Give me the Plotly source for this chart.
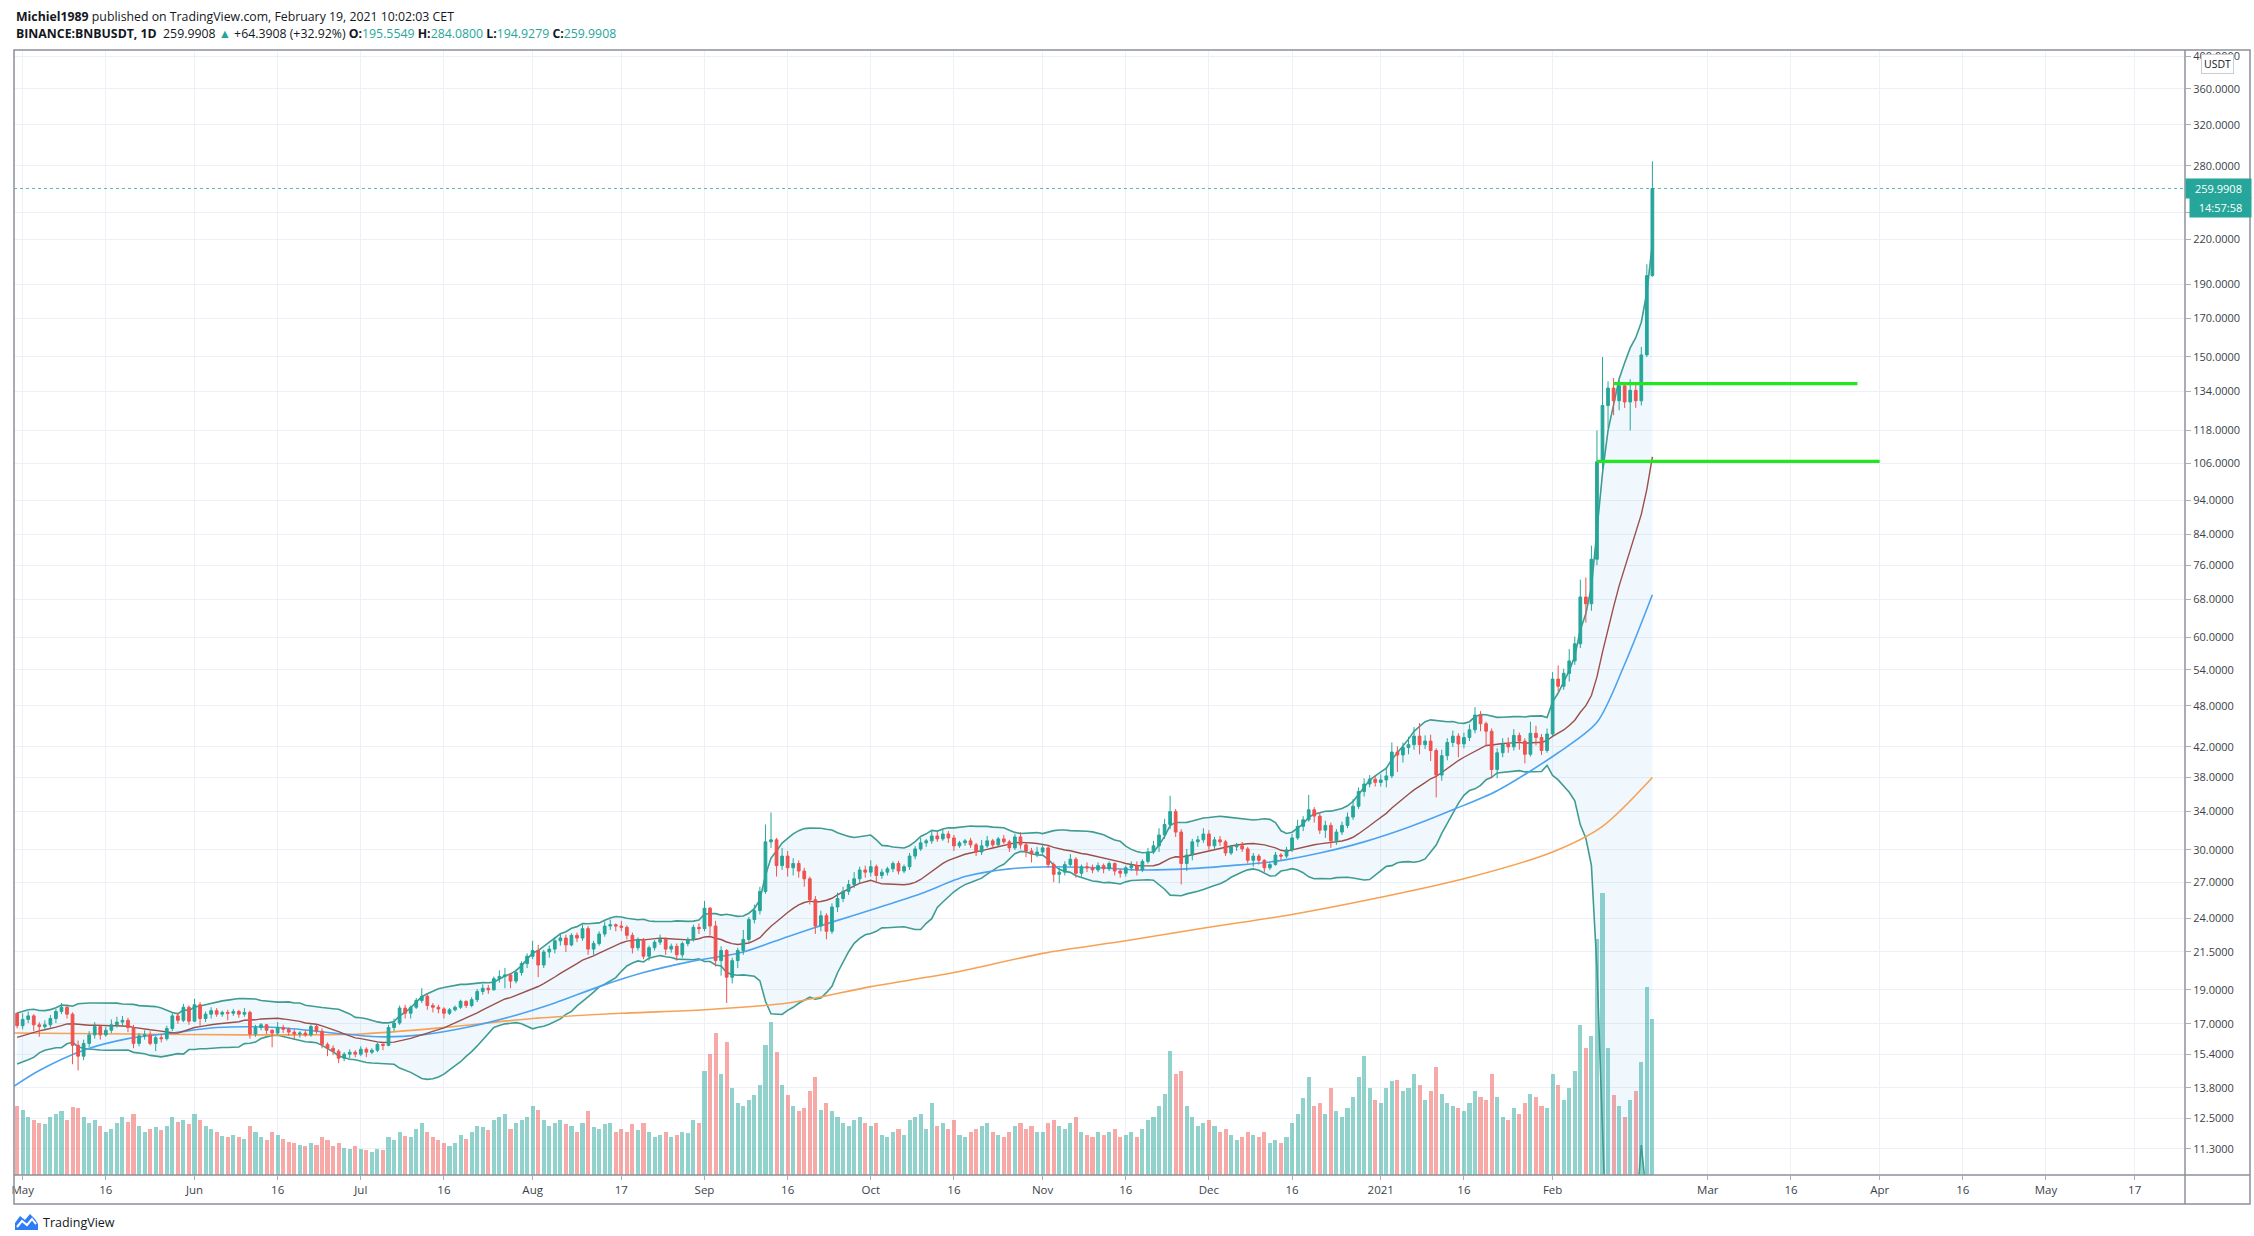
import numpy as np
import pandas as pd
import plotly.graph_objects as go

# ---------------- DATA ----------------
FIRST_DATE = "2020-04-30"
FIRST_OPEN = 17.60
# closes Apr 11 - Apr 29 2020, only used to warm up the 20-day Bollinger band
WARMUP_CLOSE = [15.40, 15.30, 15.60, 15.20, 15.70, 16.10, 16.00, 16.30, 15.70, 15.60,
                16.10, 16.50, 16.70, 16.80, 16.90, 16.80, 17.00, 17.10, 17.60]

CLOSE = [16.90,
    # May
    17.25, 17.45, 16.95, 16.85, 16.95, 17.30, 17.70, 17.95, 17.55, 15.85, 15.30, 15.95, 16.40, 16.85, 16.40, 16.65,
    16.95, 17.10, 17.20, 16.80, 15.95, 16.35, 16.40, 15.95, 16.25, 16.20, 16.75, 17.45, 17.20, 17.95, 17.15,
    # Jun
    18.10, 17.30, 17.55, 17.75, 17.55, 17.65, 17.60, 17.70, 17.55, 17.65, 16.45, 16.80, 16.95, 16.65, 16.50,
    16.80, 16.70, 16.55, 16.45, 16.50, 16.40, 16.85, 16.60, 15.90, 15.70, 15.55, 15.20, 15.40, 15.50, 15.40,
    # Jul
    15.65, 15.50, 15.60, 15.90, 15.85, 16.80, 17.05, 17.90, 17.60, 17.95, 18.35, 18.60, 18.05, 17.95, 17.85, 17.60,
    17.80, 17.95, 18.30, 18.05, 18.40, 18.90, 19.10, 19.00, 19.70, 19.85, 19.95, 19.55, 20.10, 20.70, 21.20,
    # Aug
    21.60, 20.60, 21.50, 21.70, 22.30, 22.50, 22.00, 22.70, 22.50, 23.20, 21.70, 22.10, 22.80, 23.40, 23.50, 23.40,
    23.30, 22.70, 21.80, 22.40, 21.20, 21.80, 22.20, 22.40, 21.70, 21.90, 21.30, 22.10, 22.40, 23.30, 23.20,
    # Sep
    24.80, 23.40, 20.90, 21.60, 19.80, 20.90, 21.60, 22.40, 23.90, 24.60, 26.20, 30.80, 31.00, 28.50, 29.40,
    28.30, 28.70, 28.00, 27.30, 25.50, 23.40, 24.20, 23.00, 24.90, 25.60, 26.20, 26.80, 27.30, 28.10, 27.90,
    # Oct
    28.40, 27.60, 27.90, 28.20, 28.70, 28.00, 28.40, 29.40, 30.10, 30.70, 30.90, 31.40, 31.10, 31.60, 31.20, 30.40,
    30.70, 30.90, 30.50, 29.80, 30.40, 30.90, 30.50, 31.10, 30.80, 30.20, 31.30, 30.50, 29.90, 29.60, 29.80,
    # Nov
    30.20, 28.60, 27.70, 27.90, 28.60, 29.10, 27.80, 28.40, 28.30, 28.10, 28.50, 28.20, 28.70, 28.00, 27.80,
    28.30, 28.50, 28.10, 28.90, 29.80, 30.40, 31.50, 32.60, 34.00, 31.80, 28.70, 29.50, 30.80, 31.00, 31.60,
    # Dec
    30.40, 31.00, 30.80, 29.70, 30.30, 30.40, 30.10, 29.00, 29.40, 29.00, 28.30, 28.60, 29.50, 29.40, 30.00, 31.20,
    32.40, 33.10, 34.20, 33.50, 32.00, 32.50, 30.90, 31.80, 32.50, 33.40, 34.60, 36.30, 37.20, 37.80, 37.40,
    # Jan 2021
    37.70, 38.20, 41.30, 40.90, 41.90, 42.30, 43.50, 42.30, 42.80, 41.50, 38.30, 40.80, 42.60, 43.50, 42.40, 43.30,
    44.40, 46.60, 45.30, 44.20, 39.00, 41.20, 42.40, 42.00, 43.60, 42.80, 41.00, 43.90, 43.30, 41.50, 43.80,
    # Feb 2021
    52.40, 51.20, 53.40, 55.60, 58.80, 68.50, 67.00, 77.50, 106.50, 128.00, 135.50, 130.00, 136.50, 129.50,
    134.50, 130.00, 151.00, 195.60, 259.9908]

HIGH = [17.65,
    17.60, 17.70, 17.55, 17.10, 17.20, 17.50, 17.85, 18.20, 18.05, 17.65, 16.10, 16.15, 16.60, 17.10, 16.95, 16.85,
    17.25, 17.40, 17.45, 17.35, 16.95, 16.50, 16.65, 16.60, 16.35, 16.45, 16.90, 17.60, 17.65, 18.15, 18.05,
    18.45, 18.25, 17.70, 17.95, 17.90, 17.75, 17.80, 17.85, 17.80, 17.90, 17.75, 16.95, 17.05, 17.00, 16.70,
    17.10, 16.95, 16.80, 16.70, 16.60, 16.65, 16.95, 16.95, 16.75, 16.00, 15.85, 15.65, 15.50, 15.65, 15.60,
    15.80, 15.75, 15.70, 16.00, 15.95, 16.95, 17.30, 18.05, 18.10, 18.05, 18.50, 19.10, 18.75, 18.20, 18.10, 17.95,
    17.90, 18.05, 18.40, 18.35, 18.55, 19.05, 19.35, 19.30, 19.85, 20.25, 20.40, 20.05, 20.30, 20.85, 21.40,
    22.30, 22.00, 21.65, 21.95, 22.55, 22.80, 22.75, 22.85, 22.90, 23.50, 23.40, 22.30, 23.00, 23.75, 23.90, 23.60,
    23.80, 23.45, 22.90, 22.55, 22.50, 21.95, 22.35, 22.75, 22.55, 22.10, 22.10, 22.25, 22.55, 23.50, 23.60,
    25.40, 24.90, 23.80, 21.90, 21.70, 21.10, 21.80, 23.10, 24.10, 25.10, 26.60, 32.60, 33.90, 31.20, 30.20,
    29.90, 29.20, 29.00, 28.30, 27.50, 25.80, 24.60, 24.40, 25.20, 26.10, 26.60, 27.20, 27.90, 28.40, 28.50,
    29.00, 28.60, 28.20, 28.40, 28.90, 28.95, 28.60, 29.70, 30.40, 31.20, 31.10, 31.90, 31.80, 32.10, 31.90, 31.50,
    30.90, 31.10, 31.20, 30.70, 31.00, 31.40, 31.10, 31.30, 31.50, 31.00, 31.60, 31.80, 30.70, 30.20, 30.30,
    30.60, 30.40, 28.80, 28.30, 28.90, 29.60, 29.30, 28.60, 28.80, 28.60, 28.80, 28.70, 28.90, 28.80, 28.20,
    28.50, 28.90, 28.90, 29.10, 30.20, 30.90, 32.20, 33.20, 35.80, 34.30, 32.10, 30.10, 31.10, 31.40, 32.20,
    32.00, 31.30, 31.40, 31.00, 30.50, 30.70, 30.80, 30.30, 29.70, 29.60, 29.10, 28.80, 29.80, 29.70, 30.30, 31.60,
    33.10, 33.50, 35.90, 34.50, 33.90, 33.00, 32.80, 32.10, 32.90, 33.90, 35.40, 36.80, 37.90, 38.30, 38.20,
    38.40, 39.30, 42.60, 42.10, 42.60, 43.40, 44.80, 45.40, 43.60, 43.70, 41.80, 41.60, 43.20, 44.30, 43.90, 44.00,
    45.20, 47.80, 47.20, 45.60, 44.60, 41.80, 43.20, 43.30, 44.50, 44.00, 43.20, 45.60, 45.00, 43.80, 44.60,
    53.60, 54.80, 54.20, 57.80, 60.20, 72.50, 73.00, 81.00, 118.00, 150.00, 138.50, 140.00, 139.00, 138.00,
    139.50, 137.50, 155.00, 203.00, 284.08]

LOW = [16.75,
    16.70, 17.05, 16.60, 16.30, 16.65, 16.80, 17.05, 17.55, 17.30, 14.90, 14.60, 15.10, 15.75, 16.20, 16.15, 16.30,
    16.50, 16.80, 16.90, 16.55, 15.70, 15.80, 16.15, 15.85, 15.55, 16.00, 16.10, 16.60, 17.00, 17.10, 16.95,
    17.10, 16.90, 17.10, 17.30, 17.40, 17.40, 17.20, 17.45, 17.35, 17.40, 16.20, 16.30, 16.65, 16.45, 15.75,
    16.40, 16.50, 16.35, 16.15, 16.25, 16.30, 16.30, 16.45, 15.70, 15.30, 15.35, 14.95, 15.05, 15.20, 15.25,
    15.30, 15.25, 15.40, 15.50, 15.60, 15.80, 16.60, 16.95, 17.30, 17.30, 17.85, 18.20, 17.80, 17.65, 17.60, 17.30,
    17.50, 17.70, 17.85, 17.90, 17.95, 18.25, 18.70, 18.75, 18.95, 19.45, 19.10, 19.10, 19.40, 19.90, 20.40,
    21.00, 19.80, 20.40, 21.10, 21.40, 21.95, 21.50, 21.90, 22.20, 22.30, 21.30, 21.30, 21.95, 22.60, 23.10, 23.00,
    23.00, 22.40, 21.40, 21.60, 21.00, 20.90, 21.60, 22.00, 21.30, 21.45, 20.90, 21.10, 21.90, 22.25, 22.80,
    23.00, 22.70, 20.50, 19.90, 18.20, 19.40, 20.40, 21.30, 22.20, 23.60, 24.30, 26.00, 30.20, 27.50, 28.10,
    27.50, 27.60, 27.40, 26.60, 25.10, 22.80, 23.00, 22.40, 22.80, 24.50, 25.30, 25.90, 26.50, 26.90, 27.40,
    27.50, 26.90, 27.30, 27.60, 27.90, 27.70, 27.80, 28.10, 29.10, 29.90, 30.30, 30.60, 30.80, 30.90, 30.70, 29.90,
    30.20, 30.40, 30.20, 29.40, 29.50, 30.20, 30.20, 30.40, 30.60, 29.80, 30.00, 30.10, 29.30, 28.80, 29.30,
    29.60, 28.30, 27.00, 26.90, 27.60, 28.40, 27.40, 27.50, 27.90, 27.80, 27.90, 27.80, 28.00, 27.60, 27.40,
    27.50, 28.00, 27.60, 27.90, 28.70, 29.60, 29.80, 31.10, 32.10, 31.30, 26.80, 28.00, 29.00, 30.30, 30.70,
    29.80, 30.10, 30.40, 29.40, 29.50, 29.90, 29.80, 28.70, 28.40, 28.60, 27.90, 28.10, 28.50, 29.00, 29.20, 29.80,
    31.00, 31.90, 32.90, 32.80, 31.60, 31.20, 30.20, 30.50, 31.50, 32.20, 33.10, 34.30, 35.70, 36.80, 36.90,
    36.90, 36.80, 37.90, 38.70, 39.90, 41.00, 41.60, 41.00, 41.70, 40.10, 35.60, 37.60, 40.20, 42.00, 40.60, 41.80,
    42.80, 43.90, 44.20, 42.10, 37.90, 37.90, 40.60, 41.20, 41.50, 41.60, 39.80, 40.70, 42.20, 40.90, 41.20,
    43.50, 50.30, 50.60, 52.00, 54.90, 58.00, 63.00, 65.50, 76.00, 104.00, 119.00, 124.00, 126.00, 127.00,
    118.00, 127.00, 128.00, 150.00, 194.9279]

# volume, in the picture's relative units (bar height)
VOLUME = [48,
    45, 40, 38, 36, 35, 40, 42, 44, 38, 47, 46, 40, 36, 38, 34, 30, 32, 36, 40, 37, 42, 34, 30, 32, 33, 31, 34, 40, 37, 38, 35,
    42, 38, 34, 32, 30, 27, 26, 28, 26, 25, 34, 30, 26, 24, 30, 28, 25, 23, 22, 21, 20, 22, 21, 26, 24, 20, 22, 19, 18, 20,
    18, 17, 16, 18, 17, 26, 24, 30, 27, 26, 32, 36, 30, 26, 24, 22, 20, 22, 28, 25, 30, 34, 33, 31, 38, 40, 42, 32, 36, 38, 40,
    48, 45, 38, 34, 36, 38, 35, 34, 30, 36, 44, 33, 32, 35, 36, 30, 32, 30, 35, 31, 36, 30, 26, 28, 30, 26, 28, 30, 29, 38, 36,
    72, 84, 98, 70, 92, 60, 50, 48, 52, 55, 62, 90, 106, 85, 62, 55, 48, 44, 46, 58, 68, 45, 50, 44, 40, 36, 34, 38, 40, 36,
    34, 36, 28, 26, 30, 32, 28, 38, 40, 42, 32, 50, 34, 36, 32, 38, 28, 26, 30, 32, 34, 36, 30, 28, 26, 30, 34, 36, 32, 34, 30,
    30, 36, 38, 34, 32, 36, 40, 30, 28, 26, 30, 28, 30, 32, 26, 28, 30, 26, 32, 38, 40, 48, 56, 86, 70, 72, 48, 40, 34, 36,
    38, 34, 30, 32, 28, 24, 26, 30, 28, 26, 30, 22, 24, 22, 26, 36, 42, 53, 68, 48, 50, 42, 60, 44, 40, 46, 54, 68, 82, 60, 52,
    50, 60, 65, 66, 58, 60, 70, 62, 52, 58, 75, 56, 50, 48, 46, 44, 50, 58, 54, 52, 70, 54, 40, 38, 46, 42, 50, 56, 54, 48, 46,
    70, 62, 52, 60, 72, 104, 88, 96, 163, 195, 88, 55, 48, 40, 52, 58, 78, 130, 108]

MA50_DATES = ["2020-04-29", "2020-05-04", "2020-05-12", "2020-05-20", "2020-05-28", "2020-06-05", "2020-06-16",
              "2020-06-26", "2020-07-04", "2020-07-12", "2020-07-20", "2020-07-28", "2020-08-05", "2020-08-13",
              "2020-08-21", "2020-08-29", "2020-09-08", "2020-09-16", "2020-09-24", "2020-10-02", "2020-10-10",
              "2020-10-18", "2020-10-26", "2020-11-03", "2020-11-11", "2020-11-19", "2020-11-27", "2020-12-05",
              "2020-12-13", "2020-12-21", "2020-12-29", "2021-01-06", "2021-01-14", "2021-01-22", "2021-02-02",
              "2021-02-09", "2021-02-14", "2021-02-19"]
MA50_VALUES = [13.8, 14.6, 15.6, 16.2, 16.5, 16.8, 16.8, 16.5, 16.3, 16.4, 16.8, 17.4, 18.2, 19.2, 20.1, 20.8,
               21.5, 22.6, 23.7, 24.8, 26.0, 27.5, 28.2, 28.4, 28.3, 28.1, 28.2, 28.5, 28.9, 29.7, 30.8, 32.3,
               34.2, 36.4, 41.2, 45.5, 55.0, 69.0]

MA200_DATES = ["2020-04-29", "2020-05-20", "2020-06-10", "2020-07-01", "2020-07-16", "2020-08-01", "2020-08-17",
               "2020-09-01", "2020-09-16", "2020-10-01", "2020-10-16", "2020-11-01", "2020-11-16", "2020-12-01",
               "2020-12-16", "2021-01-01", "2021-01-16", "2021-02-01", "2021-02-10", "2021-02-19"]
MA200_VALUES = [16.5, 16.45, 16.4, 16.45, 16.8, 17.3, 17.6, 17.8, 18.2, 19.2, 20.1, 21.4, 22.3, 23.3, 24.3,
                25.7, 27.3, 29.8, 32.4, 38.0]

# user-drawn horizontal levels
LEVEL_VALUES = [137.5, 106.7]
LEVEL_START = ["2021-02-12", "2021-02-09"]
LEVEL_END = ["2021-03-28", "2021-04-01"]

LAST_PRICE = 259.9908

XTICK_VALS = ["2020-05-01", "2020-05-16", "2020-06-01", "2020-06-16", "2020-07-01", "2020-07-16", "2020-08-01",
              "2020-08-17", "2020-09-01", "2020-09-16", "2020-10-01", "2020-10-16", "2020-11-01", "2020-11-16",
              "2020-12-01", "2020-12-16", "2021-01-01", "2021-01-16", "2021-02-01", "2021-03-01", "2021-03-16",
              "2021-04-01", "2021-04-16", "2021-05-01", "2021-05-17"]
XTICK_TEXT = ["May", "16", "Jun", "16", "Jul", "16", "Aug", "17", "Sep", "16", "Oct", "16", "Nov", "16",
              "Dec", "16", "2021", "16", "Feb", "Mar", "16", "Apr", "16", "May", "17"]
YTICK_VALS = [11.3, 12.5, 13.8, 15.4, 17, 19, 21.5, 24, 27, 30, 34, 38, 42, 48, 54, 60, 68, 76, 84, 94,
              106, 118, 134, 150, 170, 190, 220, 240, 280, 320, 360, 400]
YTICK_HIDDEN = [240]   # label sits behind the countdown box in the reference

HEADER_1 = "<b>Michiel1989</b> published on TradingView.com, February 19, 2021 10:02:03 CET"
HEADER_2 = ("<b>BINANCE:BNBUSDT, 1D</b>  259.9908 <span style='color:#26a69a'>▲</span> +64.3908 (+32.92%) "
            "<b>O:</b><span style='color:#26a69a'>195.5549</span> <b>H:</b><span style='color:#26a69a'>284.0800</span> "
            "<b>L:</b><span style='color:#26a69a'>194.9279</span> <b>C:</b><span style='color:#26a69a'>259.9908</span>")

# ---------------- derived ----------------
dates = pd.date_range(FIRST_DATE, periods=len(CLOSE), freq="D")
OPEN = [FIRST_OPEN] + CLOSE[:-1]          # 24/7 market: each open is the prior close
HIGH_ = [max(h, o, c) for h, o, c in zip(HIGH, OPEN, CLOSE)]
LOW_ = [min(l, o, c) for l, o, c in zip(LOW, OPEN, CLOSE)]

s = pd.Series(WARMUP_CLOSE + CLOSE)
mid = s.rolling(20).mean().to_numpy()[len(WARMUP_CLOSE):]
sd = s.rolling(20).std(ddof=0).to_numpy()[len(WARMUP_CLOSE):]
bb_up = mid + 2 * sd
bb_lo = np.maximum(mid - 2 * sd, 1.0)

# ---------------- geometry ----------------
W, H = 2254, 1236
ML, MR, MT, MB = 14, 69, 50, 61
PW, PH = W - ML - MR, H - MT - MB
Y_LO, Y_HI = np.log10(10.38), np.log10(408.6)
X0, X1 = "2020-04-29 10:30", "2021-05-26 02:00"


def P(x, y):
    return (x - ML) / PW, (H - MB - y) / PH


def ypaper(v):
    return (np.log10(v) - Y_LO) / (Y_HI - Y_LO)


UP, DN = "#26a69a", "#ef5350"
GRID = "#edf1f7"
TXT = "#131722"
AX_TXT = "#3b3f4a"
FONT = "Open Sans"

fig = go.Figure()

# volume (base axis, linear, hidden)
vcol = ["rgba(38,166,154,0.5)" if c >= o else "rgba(239,83,80,0.5)" for o, c in zip(OPEN, CLOSE)]
fig.add_trace(go.Bar(x=dates, y=VOLUME, marker=dict(color=vcol, line=dict(width=0)),
                     width=0.74 * 86400000, xaxis="x", yaxis="y", hoverinfo="skip"))

# Bollinger band + moving averages (price axis y2)
fig.add_trace(go.Scatter(x=dates, y=bb_up, mode="lines", line=dict(color="#3f9c92", width=1.6),
                         xaxis="x", yaxis="y2", hoverinfo="skip"))
fig.add_trace(go.Scatter(x=dates, y=bb_lo, mode="lines", line=dict(color="#3f9c92", width=1.6),
                         fill="tonexty", fillcolor="rgba(33,150,243,0.065)",
                         xaxis="x", yaxis="y2", hoverinfo="skip"))
fig.add_trace(go.Scatter(x=MA200_DATES, y=MA200_VALUES, mode="lines",
                         line=dict(color="#f7a155", width=1.6, shape="spline", smoothing=0.8),
                         xaxis="x", yaxis="y2", hoverinfo="skip"))
fig.add_trace(go.Scatter(x=MA50_DATES, y=MA50_VALUES, mode="lines",
                         line=dict(color="#4da3ef", width=1.6, shape="spline", smoothing=0.8),
                         xaxis="x", yaxis="y2", hoverinfo="skip"))
fig.add_trace(go.Scatter(x=dates, y=mid, mode="lines", line=dict(color="#9b4f48", width=1.4),
                         xaxis="x", yaxis="y2", hoverinfo="skip"))

# candles (y3, same log scale, above indicators)
fig.add_trace(go.Candlestick(x=dates, open=OPEN, high=HIGH_, low=LOW_, close=CLOSE,
                             increasing=dict(line=dict(color=UP, width=1), fillcolor=UP),
                             decreasing=dict(line=dict(color=DN, width=1), fillcolor=DN),
                             whiskerwidth=0, xaxis="x", yaxis="y3", hoverinfo="skip"))

# last price dotted line
fig.add_trace(go.Scatter(x=[X0, X1], y=[LAST_PRICE, LAST_PRICE], mode="lines",
                         line=dict(color="rgba(38,166,154,0.75)", width=1.2, dash="dot"),
                         xaxis="x", yaxis="y3", hoverinfo="skip"))
# user levels
for v, a, b in zip(LEVEL_VALUES, LEVEL_START, LEVEL_END):
    fig.add_trace(go.Scatter(x=[a, b], y=[v, v], mode="lines", line=dict(color="#22e61f", width=3.2),
                             xaxis="x", yaxis="y3", hoverinfo="skip"))

# ---------------- frame / decorations ----------------
shapes = []
fx0, fy_top = P(14, 50)
fx1, fy_bot = P(2250, 1204)
border = dict(color="#8c9098", width=1.5)
shapes.append(dict(type="rect", xref="paper", yref="paper", x0=fx0, y0=fy_bot, x1=fx1, y1=fy_top,
                   line=border, layer="above"))
shapes.append(dict(type="line", xref="paper", yref="paper", x0=1, y0=fy_bot, x1=1, y1=fy_top,
                   line=border, layer="above"))
shapes.append(dict(type="line", xref="paper", yref="paper", x0=fx0, y0=0, x1=fx1, y1=0,
                   line=border, layer="above"))

# TradingView logo icon
logo = [(15, 1230), (15, 1223), (20, 1216), (25, 1220), (30, 1214), (35, 1219), (38, 1224), (38, 1230)]
path = "M " + " L ".join(f"{P(x, y)[0]:.6f},{P(x, y)[1]:.6f}" for x, y in logo) + " Z"
shapes.append(dict(type="path", xref="paper", yref="paper", path=path, fillcolor="#2e7cf6",
                   line=dict(width=0), layer="above"))
zig = [(17, 1227), (22, 1221), (27, 1225), (32, 1219), (36, 1224)]
path2 = "M " + " L ".join(f"{P(x, y)[0]:.6f},{P(x, y)[1]:.6f}" for x, y in zig)
shapes.append(dict(type="path", xref="paper", yref="paper", path=path2,
                   line=dict(color="white", width=2), layer="above"))

ann = []
hx, hy1 = P(14, 17)
_, hy2 = P(14, 33)
ann.append(dict(text=HEADER_1, x=hx, y=hy1, xref="paper", yref="paper", xanchor="left", yanchor="middle",
                showarrow=False, font=dict(family=FONT, size=12.3, color=TXT)))
ann.append(dict(text=HEADER_2, x=hx, y=hy2, xref="paper", yref="paper", xanchor="left", yanchor="middle",
                showarrow=False, font=dict(family=FONT, size=12.3, color=TXT)))
lx, ly = P(41, 1222)
ann.append(dict(text="TradingView", x=lx, y=ly, xref="paper", yref="paper", xanchor="left", yanchor="middle",
                showarrow=False, font=dict(family=FONT, size=12.5, color=TXT)))
ux, uy = P(2217, 64)
ann.append(dict(text="USDT", x=ux, y=uy, xref="paper", yref="paper", xanchor="center", yanchor="middle",
                showarrow=False, font=dict(family=FONT, size=10.5, color=TXT), bgcolor="white",
                bordercolor="#c9ccd3", borderwidth=1, borderpad=2))
ann.append(dict(text=f"{LAST_PRICE:.4f}", x=1, y=ypaper(LAST_PRICE), xref="paper", yref="paper",
                xanchor="left", yanchor="middle", showarrow=False, width=61, align="center",
                font=dict(family=FONT, size=11, color="white"), bgcolor=UP, borderpad=2))
ann.append(dict(text="14:57:58", x=1, y=ypaper(LAST_PRICE), xref="paper", yref="paper", xshift=4,
                yshift=-19, xanchor="left", yanchor="middle", showarrow=False, width=57, align="center",
                font=dict(family=FONT, size=11, color="white"), bgcolor=UP, borderpad=2))

fig.update_layout(
    width=W, height=H,
    margin=dict(l=ML, r=MR, t=MT, b=MB, autoexpand=False),
    paper_bgcolor="white", plot_bgcolor="white",
    showlegend=False, hovermode=False, bargap=0,
    font=dict(family=FONT, color=AX_TXT),
    xaxis=dict(type="date", range=[X0, X1], tickvals=XTICK_VALS, ticktext=XTICK_TEXT,
               showgrid=True, gridcolor=GRID, gridwidth=1, zeroline=False, showline=False,
               ticks="outside", ticklen=4, tickcolor="#a9adb6", tickfont=dict(family=FONT, size=11.5, color=AX_TXT),
               rangeslider=dict(visible=False), fixedrange=True),
    yaxis=dict(range=[0, 778], visible=False, fixedrange=True),
    yaxis2=dict(type="log", range=[Y_LO, Y_HI], overlaying="y", side="right", anchor="x",
                tickvals=YTICK_VALS,
                ticktext=["" if v in YTICK_HIDDEN else f"{v:.4f}" for v in YTICK_VALS],
                showgrid=True, gridcolor=GRID, gridwidth=1, zeroline=False, showline=False,
                ticks="outside", ticklen=5, tickcolor="#a9adb6",
                tickfont=dict(family=FONT, size=11, color=AX_TXT), fixedrange=True),
    yaxis3=dict(type="log", range=[Y_LO, Y_HI], overlaying="y", side="right", anchor="x",
                visible=False, showgrid=False, fixedrange=True),
    shapes=shapes, annotations=ann,
)

fig.write_html("out.html", config={"displayModeBar": False, "staticPlot": True},
               post_script="document.body.style.margin='0';document.body.style.padding='0';"
                           "document.body.style.overflow='hidden';")
